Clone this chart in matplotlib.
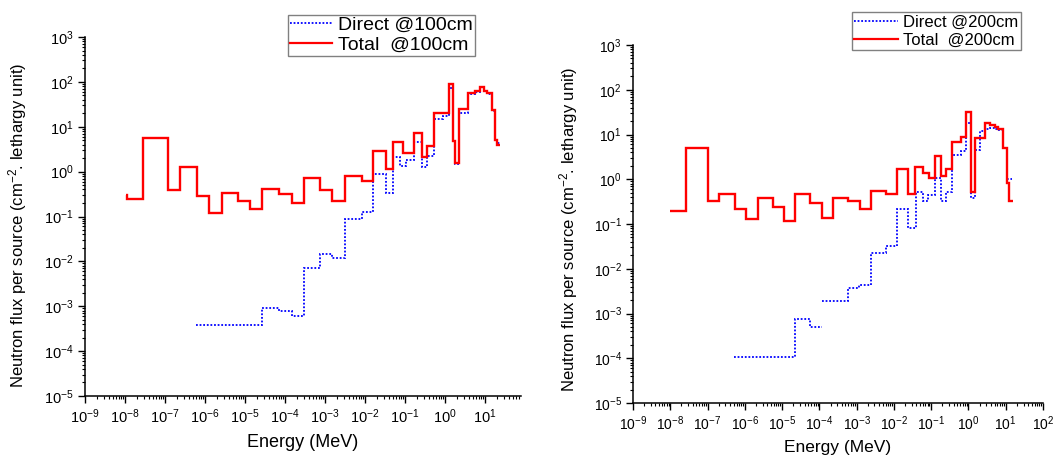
import matplotlib
matplotlib.use("Agg")
import matplotlib.pyplot as plt
from matplotlib.ticker import LogLocator, LogFormatterSciNotation, NullFormatter
from matplotlib.lines import Line2D

plt.rcParams["font.family"] = ["Liberation Sans", "DejaVu Sans"]
plt.rcParams["mathtext.fontset"] = "custom"
plt.rcParams["mathtext.rm"] = "Liberation Sans"
plt.rcParams["mathtext.it"] = "Liberation Sans:italic"
plt.rcParams["mathtext.bf"] = "Liberation Sans:bold"
plt.rcParams["mathtext.default"] = "regular"
plt.rcParams["axes.unicode_minus"] = False

# ---------------- data (energy in MeV, flux per lethargy) ----------------
# 100 cm : total
total100_edges = [1.07e-8, 1.1e-8, 2.9e-8, 1.2e-7, 2.37e-7, 6.2e-7, 1.29e-6, 2.63e-6,
                  6.6e-6, 1.33e-5, 2.7e-5, 7.2e-5, 1.48e-4, 3.0e-4, 7.5e-4, 1.51e-3,
                  3.2e-3, 8.3e-3, 0.0162, 0.0335, 0.0513, 0.087, 0.168, 0.266, 0.347,
                  0.537, 1.29, 1.62, 1.78, 2.24, 3.8, 5.6, 7.5, 9.4, 11.0, 14.8, 17.8,
                  19.5, 23.7]
total100_flux = [0.3, 0.24, 5.7, 0.39, 1.25, 0.29, 0.117, 0.33, 0.22, 0.145, 0.40, 0.31,
                 0.20, 0.71, 0.39, 0.22, 0.81, 0.63, 2.94, 1.13, 4.66, 2.57, 7.4, 2.16,
                 3.7, 20.6, 90, 4.8, 1.54, 24.6, 55.7, 63, 78, 63, 55.7, 23.4, 5.1, 3.9]

# 100 cm : direct
direct100_edges = [5.96e-7, 2.7e-5, 7.2e-5, 1.48e-4, 3.0e-4, 7.5e-4, 1.51e-3, 3.2e-3,
                   8.3e-3, 0.0162, 0.0335, 0.0513, 0.075, 0.107, 0.168, 0.266, 0.347,
                   0.537, 0.89, 1.29, 1.62, 1.78, 2.24, 3.8, 5.6, 7.5, 9.4, 11.0, 14.8,
                   17.8, 19.5, 23.7]
direct100_flux = [3.8e-4, 9.3e-4, 8e-4, 6.2e-4, 7.1e-3, 0.0148, 0.012, 0.087, 0.124,
                  0.89, 0.33, 2.1, 1.34, 1.8, 4.66, 1.29, 2.24, 14.7, 17, 72, 4.8, 1.5,
                  20.6, 53, 60, 75, 62, 55, 23, 5, 4.3]

# 200 cm : total
total200_edges = [9.8e-9, 2.6e-8, 1.05e-7, 2.06e-7, 5.4e-7, 1.07e-6, 2.2e-6, 5.6e-6,
                  1.12e-5, 2.2e-5, 5.75e-5, 1.2e-4, 2.34e-4, 5.9e-4, 1.22e-3, 2.4e-3,
                  6.0e-3, 0.0122, 0.024, 0.0363, 0.0607, 0.088, 0.127, 0.189, 0.257,
                  0.372, 0.646, 0.885, 1.153, 1.2, 1.48, 2.73, 3.72, 5.07, 6.17, 8.5,
                  11.0, 12.3, 15.7]
total200_flux = [0.195, 5.07, 0.33, 0.48, 0.213, 0.127, 0.375, 0.244, 0.119, 0.47, 0.30,
                 0.134, 0.375, 0.327, 0.213, 0.555, 0.47, 1.67, 0.47, 1.9, 1.36, 1.05,
                 3.37, 1.2, 1.67, 6.7, 8.65, 32, 1.67, 0.53, 8.2, 18.4, 16.3, 14.8, 13,
                 5.1, 0.81, 0.32]

# 200 cm : direct (two pieces, the curve is interrupted near 1e-4 MeV)
direct200_low_edges = [5.1e-7, 2.2e-5, 5.6e-5, 1.15e-4]
direct200_low_flux = [1.08e-4, 7.4e-4, 5.1e-4]
direct200_high_edges = [1.15e-4, 5.9e-4, 1.17e-3, 2.4e-3, 6.0e-3, 0.0122, 0.024, 0.039,
                        0.0607, 0.083, 0.126, 0.189, 0.257, 0.372, 0.646, 0.885, 1.153,
                        1.48, 2.09, 2.73, 3.72, 5.07, 6.17, 8.5, 11.0, 15.1]
direct200_high_flux = [1.9e-3, 3.8e-3, 4.3e-3, 0.023, 0.033, 0.216, 0.083, 0.51, 0.33,
                       0.445, 1.05, 0.32, 0.53, 3.5, 4.35, 17.8, 0.38, 4.5, 12.2, 13.5,
                       14, 13.5, 12.5, 5, 1.0]

legend100 = ["Direct @100cm", "Total  @100cm"]
legend200 = ["Direct @200cm", "Total  @200cm"]
xlabel = "Energy (MeV)"
ylabel = "Neutron flux per source (cm$^{-2}$. lethargy unit)"

RED = "#ff0000"
BLUE = "#0000ff"
DOT = (0, (1, 1))

fig = plt.figure(figsize=(10.59, 4.62), dpi=100)
axL = fig.add_axes([85 / 1059, 66 / 462, 436 / 1059, 359 / 462])
axR = fig.add_axes([633 / 1059, 59 / 462, 410 / 1059, 358 / 462])


def style(ax, xmax, tick_fs, lab_fs, ylab_x, ylab_y, xlab_y):
    ax.set_xscale("log")
    ax.set_yscale("log")
    ax.set_xlim(1e-9, xmax)
    ax.set_ylim(1e-5, 1e3)
    for s in ("top", "right"):
        ax.spines[s].set_visible(False)
    for s in ("left", "bottom"):
        ax.spines[s].set_linewidth(1.1)
    ax.xaxis.set_major_locator(LogLocator(base=10, numticks=20))
    ax.xaxis.set_minor_locator(LogLocator(base=10, subs=range(2, 10), numticks=20))
    ax.yaxis.set_major_locator(LogLocator(base=10, numticks=20))
    ax.yaxis.set_minor_locator(LogLocator(base=10, subs=range(2, 10), numticks=20))
    ax.xaxis.set_major_formatter(LogFormatterSciNotation())
    ax.yaxis.set_major_formatter(LogFormatterSciNotation())
    ax.xaxis.set_minor_formatter(NullFormatter())
    ax.yaxis.set_minor_formatter(NullFormatter())
    ax.tick_params(which="major", direction="out", length=5, width=1.0,
                   labelsize=tick_fs, pad=3)
    ax.tick_params(which="minor", direction="out", length=2.5, width=0.8)
    ax.set_xlabel(xlabel, fontsize=lab_fs)
    ax.set_ylabel(ylabel, fontsize=12)
    ax.yaxis.set_label_coords(ylab_x, ylab_y)
    ax.xaxis.set_label_coords(0.5, xlab_y)


def proxies():
    return [Line2D([], [], color=BLUE, lw=1.3, ls=DOT),
            Line2D([], [], color=RED, lw=1.6)]


# left panel
axL.stairs(direct100_flux, direct100_edges, baseline=None, color=BLUE, lw=1.3, ls=DOT)
axL.stairs(total100_flux, total100_edges, baseline=None, color=RED, lw=1.7)
style(axL, 10 ** 1.9, 10.5, 13, -0.128, 0.475, -0.105)
legL = axL.legend(proxies(), legend100, loc="upper left",
                  bbox_to_anchor=(0.465, 1.062), fontsize=14, frameon=True,
                  fancybox=False, edgecolor="#808080", framealpha=1,
                  borderpad=0.1, handlelength=2.2, handletextpad=0.3,
                  labelspacing=0.1, borderaxespad=0)
legL.get_frame().set_linewidth(1.0)

# right panel
axR.stairs(direct200_low_flux, direct200_low_edges, baseline=None, color=BLUE, lw=1.3, ls=DOT)
axR.stairs(direct200_high_flux, direct200_high_edges, baseline=None, color=BLUE, lw=1.3, ls=DOT)
axR.stairs(total200_flux, total200_edges, baseline=None, color=RED, lw=1.7)
style(axR, 1e2, 10, 12.5, -0.13, 0.486, -0.103)
legR = axR.legend(proxies(), legend200, loc="upper left",
                  bbox_to_anchor=(0.534, 1.092), fontsize=12, frameon=True,
                  fancybox=False, edgecolor="#808080", framealpha=1,
                  borderpad=0.15, handlelength=2.6, handletextpad=0.3,
                  labelspacing=0.2, borderaxespad=0)
legR.get_frame().set_linewidth(1.0)

fig.savefig("out.png", dpi=100)
